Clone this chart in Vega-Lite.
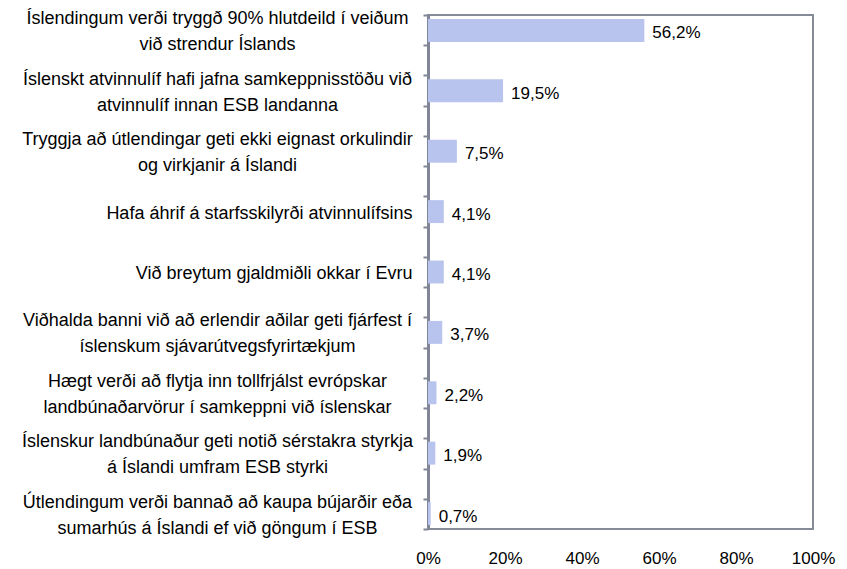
{
  "$schema": "https://vega.github.io/schema/vega-lite/v6.json",
  "width": 385,
  "height": 514,
  "autosize": {"type": "none"},
  "padding": {"left": 428, "top": 15, "right": 34, "bottom": 40},
  "background": "#ffffff",
  "config": {
    "locale": {"number": {"decimal": ",", "thousands": ".", "grouping": [3], "currency": ["", " kr."]}},
    "font": "Liberation Sans",
    "view": {"stroke": "#858b99", "strokeWidth": 2},
    "axis": {"labelFont": "Liberation Sans", "labelColor": "#000000", "grid": false, "title": null}
  },
  "data": {
    "values": [
      {"cat": "Íslendingum verði tryggð 90% hlutdeild í veiðum\nvið strendur Íslands", "value": 0.562},
      {"cat": "Íslenskt atvinnulíf hafi jafna samkeppnisstöðu við\natvinnulíf innan ESB landanna", "value": 0.195},
      {"cat": "Tryggja að útlendingar geti ekki eignast orkulindir\nog virkjanir á Íslandi", "value": 0.075},
      {"cat": "Hafa áhrif á starfsskilyrði atvinnulífsins", "value": 0.041},
      {"cat": "Við breytum gjaldmiðli okkar í Evru", "value": 0.041},
      {"cat": "Viðhalda banni við að erlendir aðilar geti fjárfest í\níslenskum sjávarútvegsfyrirtækjum", "value": 0.037},
      {"cat": "Hægt verði að flytja inn tollfrjálst evrópskar\nlandbúnaðarvörur í samkeppni við íslenskar", "value": 0.022},
      {"cat": "Íslenskur landbúnaður geti notið sérstakra styrkja\ná Íslandi umfram ESB styrki", "value": 0.019},
      {"cat": "Útlendingum verði bannað að kaupa bújarðir eða\nsumarhús á Íslandi ef við göngum í ESB", "value": 0.007}
    ]
  },
  "layer": [
    {
      "encoding": {
        "y": {
          "field": "cat", "type": "nominal", "sort": null,
          "scale": {"paddingInner": 0.62, "paddingOuter": 0.066},
          "axis": {
            "orient": "left",
            "domain": false, "ticks": false,
            "labelFontSize": 18,
            "labelBaseline": "middle",
            "labelLineHeight": 26,
            "labelExpr": "split(datum.label, '\\n')",
            "labelLimit": 500,
            "labelAlign": {"condition": {"test": "indexof(datum.label, '\\n') >= 0", "value": "center"}, "value": "right"},
            "labelPadding": {"condition": {"test": "indexof(datum.label, '\\n') >= 0", "value": 211}, "value": 16},
            "labelOffset": {"condition": {"test": "indexof(datum.label, '\\n') >= 0", "value": -11}, "value": 2}
          }
        },
        "x": {
          "field": "value", "type": "quantitative",
          "scale": {"domain": [0, 1], "nice": false},
          "axis": {
            "values": [0, 0.2, 0.4, 0.6, 0.8, 1],
            "format": ".0%",
            "domain": false, "ticks": false,
            "labelPadding": 21,
            "labelFontSize": 17,
            "labelFlush": false
          }
        }
      },
      "layer": [
        {"mark": {"type": "bar", "color": "#b8c3ee"}},
        {
          "mark": {"type": "text", "align": "left", "baseline": "middle", "dx": 8, "dy": 3, "fontSize": 17, "color": "#000000"},
          "encoding": {"text": {"field": "value", "type": "quantitative", "format": ".1%"}}
        }
      ]
    },
    {
      "mark": {"type": "point", "opacity": 0},
      "encoding": {
        "y": {
          "datum": 0, "type": "quantitative",
          "scale": {"domain": [0, 17], "nice": false, "zero": false},
          "axis": {
            "orient": "left",
            "values": [0, 1, 2, 3, 4, 5, 6, 7, 8, 9, 10, 11, 12, 13, 14, 15, 16, 17],
            "labels": false, "domain": true, "domainColor": "#808696", "domainWidth": 3,
            "ticks": true, "tickSize": 5, "tickColor": "#808696", "tickWidth": 2
          }
        }
      }
    }
  ],
  "resolve": {"scale": {"y": "independent"}, "axis": {"y": "independent"}}
}
